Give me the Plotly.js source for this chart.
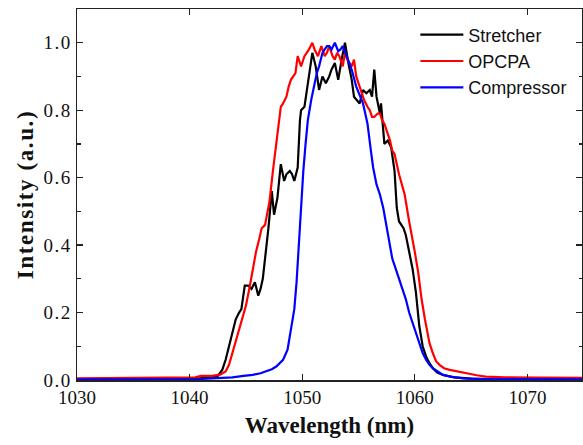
<!DOCTYPE html>
<html>
<head>
<meta charset="utf-8">
<script src="https://cdn.plot.ly/plotly-3.0.1.min.js"></script>
<style>
html,body{margin:0;padding:0;background:#fff;}
#chart{width:583px;height:445px;}
#chart .ytitle{letter-spacing:1.6px;}
#chart .ytick text{letter-spacing:1.5px;}
</style>
</head>
<body>
<div id="chart"></div>
<script>
// Stretcher (black)
const stretcherX = [1030,1034,1038,1040,1041,1042,1042.5,1042.9,1043.2,1043.5,1043.8,1044.1,1044.4,1044.6,1044.9,1045.2,1045.5,1045.8,1046.1,1046.3,1046.5,1046.8,1047.0,1047.3,1047.5,1047.8,1048.1,1048.4,1048.6,1048.9,1049.1,1049.3,1049.6,1049.8,1049.9,1050.2,1050.5,1050.9,1051.2,1051.5,1051.8,1052.1,1052.4,1052.6,1052.9,1053.2,1053.5,1053.8,1054.1,1054.4,1054.6,1055.1,1055.4,1055.7,1056.0,1056.2,1056.4,1056.6,1056.9,1057.0,1057.3,1057.6,1057.9,1058.2,1058.4,1058.6,1059.0,1059.2,1059.5,1059.8,1060.1,1060.4,1060.7,1061.0,1061.3,1061.6,1062.0,1062.5,1063.5,1065,1068,1075];
const stretcherY = [0.003,0.003,0.004,0.005,0.006,0.008,0.012,0.03,0.06,0.10,0.14,0.18,0.20,0.21,0.28,0.28,0.27,0.29,0.25,0.27,0.30,0.38,0.45,0.56,0.49,0.54,0.64,0.59,0.61,0.62,0.61,0.59,0.63,0.77,0.80,0.81,0.88,0.97,0.93,0.86,0.90,0.88,0.90,0.92,0.94,0.89,0.95,1.00,0.94,0.89,0.84,0.82,0.86,0.85,0.86,0.84,0.92,0.84,0.79,0.82,0.70,0.71,0.69,0.62,0.51,0.47,0.45,0.43,0.38,0.33,0.26,0.16,0.10,0.07,0.05,0.035,0.022,0.015,0.008,0.004,0.002,0.002];

// OPCPA (red)
const opcpaX = [1030,1033,1036,1039,1040.5,1041,1042,1042.7,1043.2,1043.5,1043.8,1044.1,1044.4,1044.7,1045.0,1045.3,1045.5,1045.9,1046.2,1046.4,1046.7,1047.1,1047.4,1047.7,1047.9,1048.1,1048.3,1048.6,1048.8,1049.0,1049.2,1049.4,1049.6,1049.9,1050.2,1050.4,1050.6,1050.9,1051.1,1051.4,1051.7,1052.0,1052.2,1052.4,1052.7,1052.9,1053.1,1053.3,1053.6,1053.8,1054.0,1054.2,1054.4,1054.6,1054.8,1055.1,1055.3,1055.5,1055.8,1056.0,1056.2,1056.4,1056.7,1056.9,1057.1,1057.3,1057.6,1057.8,1058.0,1058.2,1058.6,1059.1,1059.5,1059.8,1060.0,1060.3,1060.6,1060.9,1061.1,1061.3,1061.6,1061.9,1062.2,1062.6,1063.1,1063.8,1064.6,1065.5,1066.3,1068,1071,1075];
const opcpaY = [0.005,0.006,0.006,0.007,0.008,0.012,0.012,0.016,0.025,0.045,0.08,0.115,0.15,0.185,0.22,0.27,0.31,0.38,0.42,0.45,0.46,0.53,0.62,0.71,0.76,0.81,0.82,0.84,0.87,0.89,0.90,0.91,0.96,0.93,0.96,0.97,0.98,1.00,0.98,0.96,0.99,0.96,0.97,0.99,0.96,0.95,0.97,0.96,0.93,0.97,0.95,0.94,0.93,0.95,0.90,0.87,0.85,0.83,0.81,0.80,0.78,0.78,0.79,0.79,0.77,0.76,0.73,0.71,0.68,0.67,0.61,0.55,0.47,0.42,0.38,0.32,0.24,0.18,0.14,0.11,0.08,0.055,0.045,0.035,0.03,0.025,0.02,0.014,0.01,0.008,0.007,0.006];

// Compressor (blue)
const compressorX = [1030,1035,1040,1041,1042,1043,1043.8,1044.8,1045.6,1046.3,1046.8,1047.3,1047.7,1048.0,1048.3,1048.5,1048.7,1048.85,1049.0,1049.15,1049.3,1049.5,1049.7,1049.9,1050.1,1050.3,1050.5,1050.8,1051.1,1051.3,1051.5,1051.8,1052.0,1052.2,1052.4,1052.6,1052.9,1053.2,1053.4,1053.6,1053.9,1054.2,1054.4,1054.8,1055.1,1055.4,1055.6,1055.8,1056.1,1056.3,1056.6,1056.9,1057.2,1057.4,1057.6,1057.8,1058.0,1058.3,1058.6,1058.9,1059.2,1059.5,1059.8,1060.1,1060.4,1060.7,1061.0,1061.3,1061.6,1062.0,1062.5,1063.3,1064.3,1066,1070,1075];
const compressorY = [0.002,0.002,0.003,0.003,0.005,0.006,0.008,0.012,0.015,0.02,0.025,0.032,0.04,0.05,0.06,0.075,0.09,0.12,0.15,0.18,0.21,0.29,0.40,0.52,0.62,0.70,0.77,0.83,0.88,0.91,0.93,0.97,0.98,0.99,0.99,0.98,1.00,0.975,0.98,0.99,0.965,0.94,0.92,0.87,0.845,0.82,0.79,0.76,0.68,0.63,0.58,0.55,0.51,0.47,0.44,0.40,0.36,0.33,0.30,0.27,0.24,0.20,0.17,0.14,0.11,0.08,0.06,0.045,0.035,0.025,0.015,0.009,0.005,0.003,0.002,0.002];

const seriesNames = ['Stretcher','OPCPA','Compressor'];
const xTicks = [1030,1040,1050,1060,1070];
const yTicks = [0.0,0.2,0.4,0.6,0.8,1.0];
const yTickText = ['0.0','0.2','0.4','0.6','0.8','1.0'];

const serif = 'Liberation Serif, Times New Roman, serif';
const traces = [
  {x: stretcherX, y: stretcherY, name: seriesNames[0], mode: 'lines', line: {color: '#000000', width: 2.2}},
  {x: opcpaX, y: opcpaY, name: seriesNames[1], mode: 'lines', line: {color: '#ff0000', width: 2.2}},
  {x: compressorX, y: compressorY, name: seriesNames[2], mode: 'lines', line: {color: '#0000ff', width: 2.2}}
];
const axisCommon = {
  showline: true, linecolor: '#222', linewidth: 1.5, mirror: 'allticks',
  ticks: 'inside', ticklen: 6, tickwidth: 1.2, tickcolor: '#222',
  showgrid: false, zeroline: false,
  tickfont: {family: serif, size: 19, color: '#111'}
};
const layout = {
  width: 583, height: 445,
  margin: {l: 77, r: 1, t: 9, b: 65},
  paper_bgcolor: '#fff', plot_bgcolor: '#fff',
  xaxis: Object.assign({}, axisCommon, {
    range: [1030, 1074.85], tickvals: xTicks, ticktext: xTicks.map(String),
    title: {text: 'Wavelength (nm)', font: {family: serif, size: 23, color: '#111', weight: 'bold'}, standoff: 9}
  }),
  yaxis: Object.assign({}, axisCommon, {
    range: [0, 1.1], tickvals: yTicks, ticktext: yTickText,
    minor: {dtick: 0.1, ticks: 'inside', ticklen: 3.5, tickwidth: 1.2, tickcolor: '#222'},
    title: {text: 'Intensity (a.u.)', font: {family: serif, size: 23, color: '#111', weight: 'bold'}, standoff: 8}
  }),
  showlegend: true,
  legend: {
    x: 0.67, y: 0.98, xanchor: 'left', yanchor: 'top',
    bgcolor: 'rgba(0,0,0,0)', borderwidth: 0,
    font: {family: 'Liberation Sans, Arial, sans-serif', size: 18, color: '#111'},
    itemwidth: 43, tracegroupgap: 0
  }
};
Plotly.newPlot('chart', traces, layout, {staticPlot: true, displayModeBar: false});
</script>
</body>
</html>
